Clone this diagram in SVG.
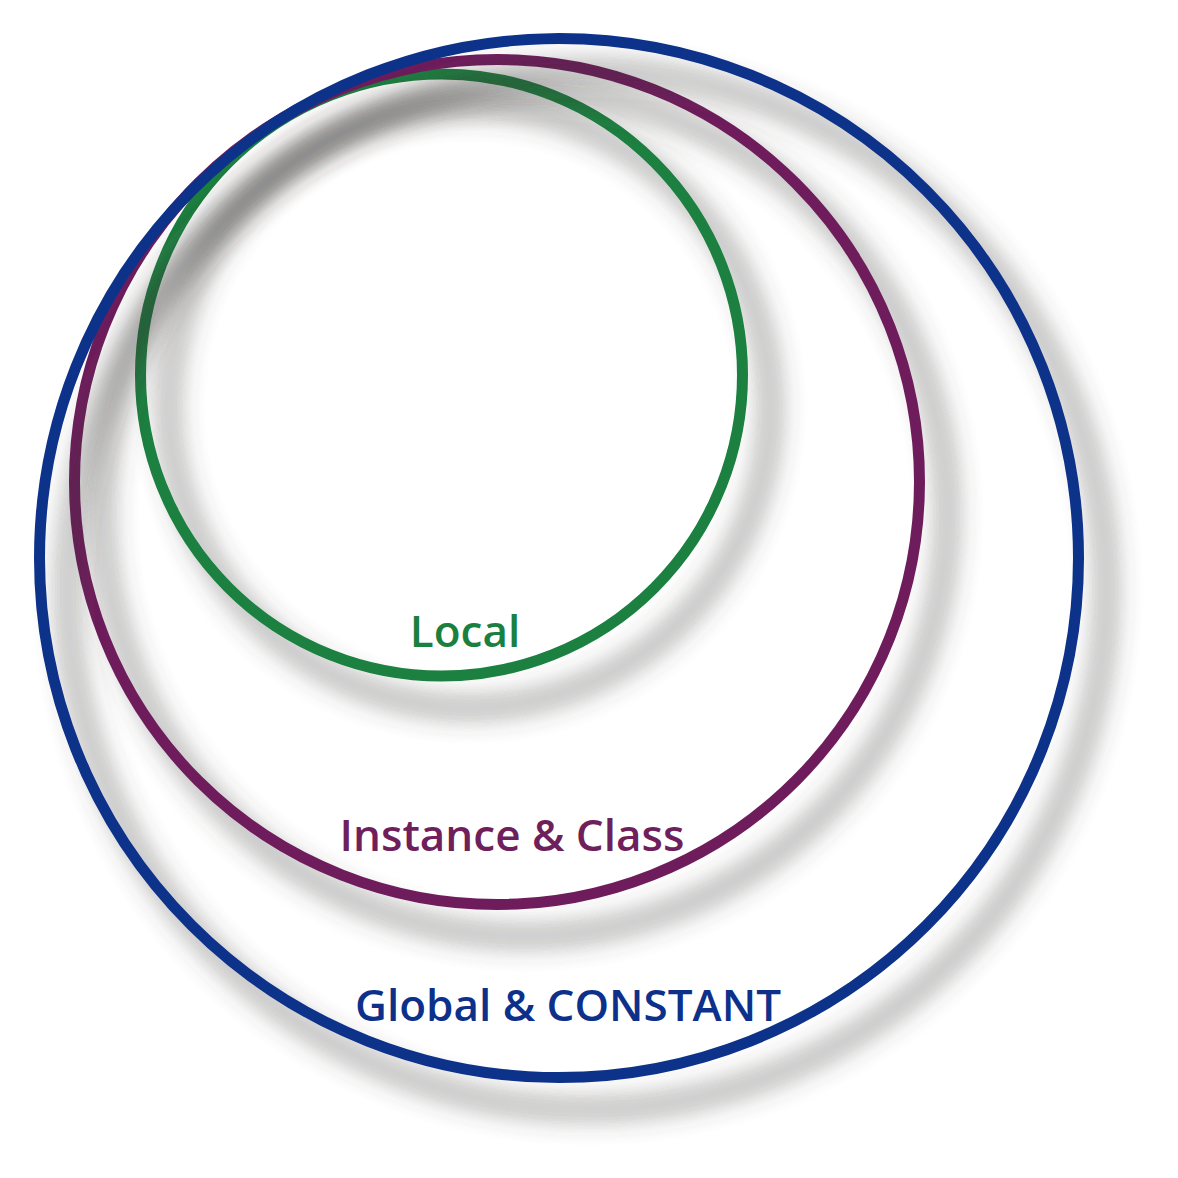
<svg xmlns="http://www.w3.org/2000/svg" width="1178" height="1178" viewBox="0 0 1178 1178">
<defs>
<filter id="sh" x="-20%" y="-20%" width="145%" height="145%">
<feGaussianBlur in="SourceAlpha" stdDeviation="14"/>
<feOffset dx="28" dy="32" result="b"/>
<feFlood flood-color="#3a3532"/>
<feComposite operator="in" in2="b"/>
<feComponentTransfer><feFuncA type="linear" slope="0.75"/></feComponentTransfer>
<feMerge><feMergeNode/><feMergeNode in="SourceGraphic"/></feMerge>
</filter>
</defs>
<style>
.ring{fill:none;stroke-width:11}
.lbl{font-family:"Open Sans","Noto Sans",sans-serif;font-weight:600;font-size:44px;text-anchor:middle}
</style>
<rect width="1178" height="1178" fill="#ffffff"/>
<g id="local">
<circle class="ring" cx="441.5" cy="375" r="301" stroke="#1a8040" filter="url(#sh)"/>
<text class="lbl" x="465" y="647" fill="#1a8040">Local</text>
</g>
<g id="instance">
<circle class="ring" cx="497" cy="482" r="422.5" stroke="#6e1f5c" filter="url(#sh)"/>
<text class="lbl" x="512" y="851" fill="#6e1f5c">Instance &amp; Class</text>
</g>
<g id="global">
<circle class="ring" cx="559" cy="558" r="519.5" stroke="#0d318a" filter="url(#sh)"/>
<text class="lbl" x="568" y="1021" fill="#0d318a">Global &amp; CONSTANT</text>
</g>
<g id="connectors"/>
</svg>
